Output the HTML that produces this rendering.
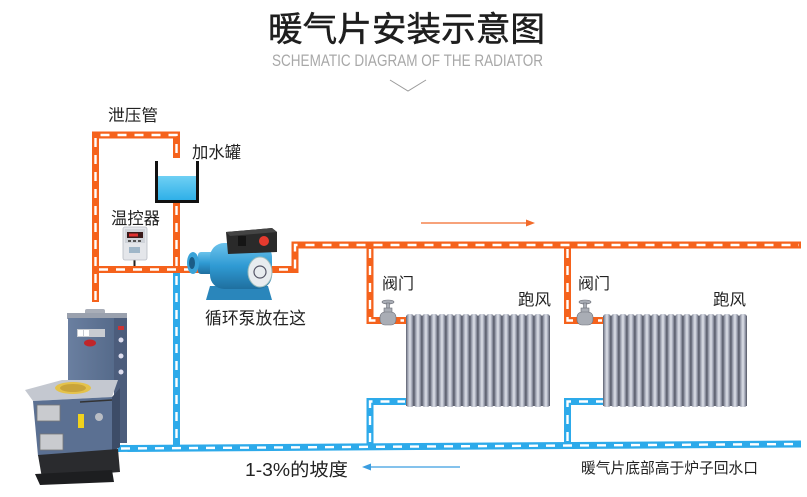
<!DOCTYPE html>
<html><head><meta charset="utf-8">
<style>
html,body{margin:0;padding:0;background:#fff;}
svg{display:block;}
text{font-family:"Liberation Sans","Noto Sans CJK SC",sans-serif;fill:#222;}
</style></head>
<body>
<svg width="807" height="497" viewBox="0 0 807 497" xmlns="http://www.w3.org/2000/svg">
<defs>
  <linearGradient id="col" x1="0" y1="0" x2="1" y2="0">
    <stop offset="0" stop-color="#5b5f6e"/>
    <stop offset="0.25" stop-color="#a9adbb"/>
    <stop offset="0.5" stop-color="#dfe2ea"/>
    <stop offset="0.75" stop-color="#9ea2b1"/>
    <stop offset="1" stop-color="#4f5361"/>
  </linearGradient>
  <linearGradient id="water" x1="0" y1="0" x2="0" y2="1">
    <stop offset="0" stop-color="#6fd0f4"/>
    <stop offset="1" stop-color="#2fb0e8"/>
  </linearGradient>
  <linearGradient id="pumpb" x1="0" y1="0" x2="0" y2="1">
    <stop offset="0" stop-color="#6cc3ec"/>
    <stop offset="0.5" stop-color="#2f9ad3"/>
    <stop offset="1" stop-color="#1f6f9f"/>
  </linearGradient>
  <linearGradient id="stovef" x1="0" y1="0" x2="1" y2="0">
    <stop offset="0" stop-color="#6a7fa0"/>
    <stop offset="1" stop-color="#556a8a"/>
  </linearGradient>
</defs>

<!-- Title -->
<text x="268" y="41" font-size="34" textLength="277" lengthAdjust="spacingAndGlyphs" style="fill:#1e1e1e;stroke:#1e1e1e;stroke-width:0.5">暖气片安装示意图</text>
<text x="272" y="66" font-size="17" textLength="271" lengthAdjust="spacingAndGlyphs" style="fill:#a8a8a8">SCHEMATIC DIAGRAM OF THE RADIATOR</text>
<polyline points="390,80 408,91 426,80" fill="none" stroke="#9a9a9a" stroke-width="1"/>

<!-- Orange pipes -->
<g fill="none" stroke="#f5621c" stroke-width="7" stroke-linejoin="miter" stroke-linecap="butt">
  <path d="M95.5 302 V135 H176.5 V158"/>
  <path d="M95.5 269.5 H200"/>
  <path d="M176.5 203 V269.5"/>
  <path d="M262 269.5 H295 V245 H801"/>
  <path d="M370 245 V320.5 H406"/>
  <path d="M567.5 245 V320.5 H604"/>
</g>
<g fill="none" stroke="#fff" stroke-width="2.4" stroke-dasharray="9 8">
  <path d="M95.5 300 V135 H176.5 V158"/>
  <path d="M99 269.5 H200"/>
  <path d="M176.5 206 V266"/>
  <path d="M262 269.5 H295 V245 H799"/>
  <path d="M370 249 V320.5 H404"/>
  <path d="M567.5 249 V320.5 H602"/>
</g>

<!-- Blue pipes -->
<g fill="none" stroke="#2daaea" stroke-width="7" stroke-linejoin="miter">
  <path d="M176.5 273 V448"/>
  <path d="M118 448.5 L801 444"/>
  <path d="M370 446 V401.5 H408"/>
  <path d="M567.5 445 V401.5 H606"/>
</g>
<g fill="none" stroke="#fff" stroke-width="2.4" stroke-dasharray="9 8">
  <path d="M176.5 276 V444"/>
  <path d="M121 448.5 L799 444"/>
  <path d="M370 442 V401.5 H405"/>
  <path d="M567.5 441 V401.5 H603"/>
</g>

<!-- Water tank -->
<rect x="158" y="176" width="38" height="24" fill="url(#water)"/>
<path d="M156.5 161 V201.5 H197.5 V161" fill="none" stroke="#111" stroke-width="3"/>

<!-- Thermostat -->
<line x1="134.5" y1="259" x2="134.5" y2="266" stroke="#222" stroke-width="2"/>
<rect x="123" y="227" width="24" height="33" rx="2" fill="#e4e6ea" stroke="#b8bcc4" stroke-width="0.8"/>
<rect x="125" y="229" width="20" height="14" fill="#cfd3d9"/>
<rect x="127" y="232" width="16" height="6" fill="#3a1a1a"/>
<rect x="129" y="233.5" width="9" height="3" fill="#e03030"/>
<rect x="128" y="240" width="3" height="2" fill="#555"/><rect x="133" y="240" width="3" height="2" fill="#555"/><rect x="138" y="240" width="3" height="2" fill="#555"/>
<rect x="129" y="247" width="11" height="6" fill="#9fb6c8"/>

<!-- Pump -->
<g>
  <polygon points="210,286 268,286 272,300 206,300" fill="#2a86bb"/>
  <rect x="198" y="252" width="18" height="22" rx="3" fill="url(#pumpb)"/>
  <ellipse cx="193" cy="263" rx="6" ry="11" fill="#3aa3d8"/>
  <ellipse cx="192" cy="263" rx="3" ry="6" fill="#1b5c86"/>
  <rect x="210" y="243" width="62" height="46" rx="14" fill="url(#pumpb)"/>
  <polygon points="226,232 272,228 277,232 277,252 228,254" fill="#2a2a2a"/>
  <polygon points="226,232 272,228 277,232 230,236" fill="#444"/>
  <circle cx="264" cy="241" r="5" fill="#e53a2e"/>
  <rect x="238" y="236" width="8" height="10" fill="#151515"/>
  <ellipse cx="260" cy="272" rx="12" ry="15" fill="#e8ecef" stroke="#9bb" stroke-width="1"/>
  <circle cx="260" cy="272" r="6" fill="none" stroke="#556" stroke-width="1.2"/>
</g>

<!-- Stove -->
<g>
  <rect x="85" y="309" width="20" height="6" rx="2" fill="#a9aeb8"/>
  <rect x="67" y="313" width="60" height="6" fill="#9aa1ae"/>
  <rect x="68" y="318" width="48" height="72" fill="url(#stovef)"/>
  <rect x="114" y="318" width="13" height="125" fill="#4c5d7c"/>
  <circle cx="121" cy="340" r="2.5" fill="#dde"/><circle cx="121" cy="356" r="2.5" fill="#dde"/><circle cx="121" cy="372" r="2.5" fill="#dde"/>
  <rect x="118" y="326" width="6" height="4" fill="#c33"/>
  <rect x="77" y="329" width="28" height="8" fill="#c8ccd2"/>
  <rect x="78" y="330" width="5" height="6" fill="#fff"/><rect x="84" y="330" width="5" height="6" fill="#fff"/>
  <ellipse cx="90" cy="343" rx="6" ry="3.5" fill="#c0262a"/>
  <polygon points="25,390 62,380 118,380 112,397 33,401" fill="#c4c8d0"/>
  <ellipse cx="73" cy="388" rx="18" ry="6" fill="#e4c24a"/>
  <ellipse cx="73" cy="388" rx="13" ry="4" fill="#c9a43a"/>
  <polygon points="33,401 112,397 112,452 38,456" fill="#5b7092"/>
  <polygon points="112,397 120,388 120,447 112,452" fill="#3d4c67"/>
  <rect x="37" y="405" width="23" height="16" fill="#c9cbcf" stroke="#777" stroke-width="0.8"/>
  <rect x="40" y="434" width="23" height="16" fill="#c9cbcf" stroke="#777" stroke-width="0.8"/>
  <rect x="78" y="414" width="6" height="14" fill="#f1d21c"/>
  <circle cx="99" cy="417" r="4" fill="#b9bdc4"/>
  <line x1="80" y1="402" x2="112" y2="400" stroke="#333" stroke-width="1.5"/>
  <polygon points="38,455 118,449 120,472 42,478" fill="#2a2b2e"/>
  <polygon points="35,474 112,470 114,482 40,485" fill="#1d1e20"/>
</g>

<!-- Radiator 1 -->
<g>
  <rect x="406" y="316" width="144" height="90" fill="#55596a"/>
  <g fill="url(#col)">
    <rect x="406" y="314" width="8" height="93" rx="3"/><rect x="414" y="314" width="8" height="93" rx="3"/>
    <rect x="422" y="314" width="8" height="93" rx="3"/><rect x="430" y="314" width="8" height="93" rx="3"/>
    <rect x="438" y="314" width="8" height="93" rx="3"/><rect x="446" y="314" width="8" height="93" rx="3"/>
    <rect x="454" y="314" width="8" height="93" rx="3"/><rect x="462" y="314" width="8" height="93" rx="3"/>
    <rect x="470" y="314" width="8" height="93" rx="3"/><rect x="478" y="314" width="8" height="93" rx="3"/>
    <rect x="486" y="314" width="8" height="93" rx="3"/><rect x="494" y="314" width="8" height="93" rx="3"/>
    <rect x="502" y="314" width="8" height="93" rx="3"/><rect x="510" y="314" width="8" height="93" rx="3"/>
    <rect x="518" y="314" width="8" height="93" rx="3"/><rect x="526" y="314" width="8" height="93" rx="3"/>
    <rect x="534" y="314" width="8" height="93" rx="3"/><rect x="542" y="314" width="8" height="93" rx="3"/>
  </g>
</g>
<!-- Radiator 2 -->
<g>
  <rect x="603" y="316" width="144" height="90" fill="#55596a"/>
  <g fill="url(#col)">
    <rect x="603" y="314" width="8" height="93" rx="3"/><rect x="611" y="314" width="8" height="93" rx="3"/>
    <rect x="619" y="314" width="8" height="93" rx="3"/><rect x="627" y="314" width="8" height="93" rx="3"/>
    <rect x="635" y="314" width="8" height="93" rx="3"/><rect x="643" y="314" width="8" height="93" rx="3"/>
    <rect x="651" y="314" width="8" height="93" rx="3"/><rect x="659" y="314" width="8" height="93" rx="3"/>
    <rect x="667" y="314" width="8" height="93" rx="3"/><rect x="675" y="314" width="8" height="93" rx="3"/>
    <rect x="683" y="314" width="8" height="93" rx="3"/><rect x="691" y="314" width="8" height="93" rx="3"/>
    <rect x="699" y="314" width="8" height="93" rx="3"/><rect x="707" y="314" width="8" height="93" rx="3"/>
    <rect x="715" y="314" width="8" height="93" rx="3"/><rect x="723" y="314" width="8" height="93" rx="3"/>
    <rect x="731" y="314" width="8" height="93" rx="3"/><rect x="739" y="314" width="8" height="93" rx="3"/>
  </g>
</g>

<!-- Valves -->
<g fill="#a9adb5" stroke="#6d7079" stroke-width="0.6">
  <ellipse cx="388" cy="302" rx="6" ry="2"/>
  <rect x="386.5" y="303" width="3" height="7"/>
  <rect x="384" y="308" width="8" height="5"/>
  <rect x="380" y="312" width="16" height="13" rx="5"/>
  <ellipse cx="585" cy="302" rx="6" ry="2"/>
  <rect x="583.5" y="303" width="3" height="7"/>
  <rect x="581" y="308" width="8" height="5"/>
  <rect x="577" y="312" width="16" height="13" rx="5"/>
</g>

<!-- Flow arrows -->
<line x1="421" y1="223" x2="528" y2="223" stroke="#f26b2a" stroke-width="1.3"/>
<polygon points="526,219.5 535,223 526,226.5" fill="#f26b2a"/>
<line x1="460" y1="467" x2="370" y2="467" stroke="#3a9de0" stroke-width="1.3"/>
<polygon points="371,463.5 362,467 371,470.5" fill="#3a9de0"/>

<!-- Labels -->
<text x="108" y="121" font-size="16.5" textLength="50" lengthAdjust="spacingAndGlyphs">泄压管</text>
<text x="192" y="158" font-size="16.5" textLength="49" lengthAdjust="spacingAndGlyphs">加水罐</text>
<text x="111" y="224" font-size="16.5" textLength="49" lengthAdjust="spacingAndGlyphs">温控器</text>
<text x="205" y="324" font-size="17" textLength="101" lengthAdjust="spacingAndGlyphs">循环泵放在这</text>
<text x="382" y="289" font-size="16" textLength="32" lengthAdjust="spacingAndGlyphs">阀门</text>
<text x="518" y="305" font-size="16" textLength="33" lengthAdjust="spacingAndGlyphs">跑风</text>
<text x="578" y="289" font-size="16" textLength="32" lengthAdjust="spacingAndGlyphs">阀门</text>
<text x="713" y="305" font-size="16" textLength="33" lengthAdjust="spacingAndGlyphs">跑风</text>
<text x="245" y="476" font-size="18" textLength="103" lengthAdjust="spacingAndGlyphs">1-3%的坡度</text>
<text x="581" y="473" font-size="14.7" textLength="177" lengthAdjust="spacingAndGlyphs">暖气片底部高于炉子回水口</text>
</svg>
</body></html>
